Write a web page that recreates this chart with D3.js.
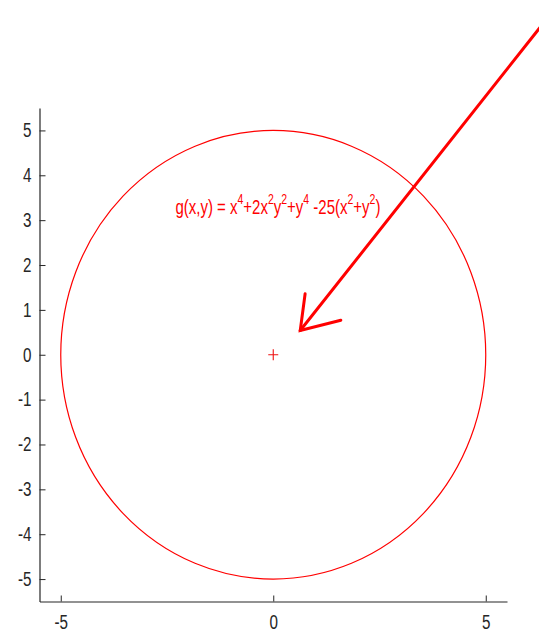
<!DOCTYPE html>
<html lang="en">
<head>
  <meta charset="utf-8">
  <title>Implicit contour g(x,y) = 0</title>
  <script src="https://d3js.org/d3.v7.min.js"></script>
  <style>
    body { margin: 0; background: #fff; }
    svg text { font-family: "Liberation Sans", Arial, sans-serif; }
  </style>
</head>
<body>
  <svg width="539" height="634"></svg>
  <script>
    // axis setup
    const xDomain = [-5.5, 5.5];
    const yDomain = [-5.5, 5.5];
    const xTicks = [-5, 0, 5];
    const yTicks = [5, 4, 3, 2, 1, 0, -1, -2, -3, -4, -5];

    // contour g(x,y)=0 -> circle radius 5 about origin
    const circleCenter = [0, 0];
    const circleRadius = 5;

    // arrow annotation (data coords)
    const arrowStart = [7.2, 8.4];
    const arrowTip = [0.635, 0.54];
    const arrowBarbs = [[0.75, 1.36], [1.59, 0.77]];

    // label
    const labelPos = [-2.3, 3.13];
    const labelParts = [
      ["g(x,y) = x", false], ["4", true], ["+2x", false], ["2", true],
      ["y", false], ["2", true], ["+y", false], ["4", true],
      [" -25(x", false], ["2", true], ["+y", false], ["2", true], [")", false]
    ];

    const svg = d3.select("svg");
    const x = d3.scaleLinear().domain(xDomain).range([39.5, 507]);
    const y = d3.scaleLinear().domain(yDomain).range([601.5, 108]);
    const axisCol = "#262626";

    const gx = svg.append("g")
      .attr("transform", `translate(0,${y(yDomain[0])})`)
      .call(d3.axisBottom(x).tickValues(xTicks).tickFormat(d => String(d))
        .tickSizeInner(-6).tickSizeOuter(0).tickPadding(14));
    const gy = svg.append("g")
      .attr("transform", `translate(${x(xDomain[0])},0)`)
      .call(d3.axisLeft(y).tickValues(yTicks).tickFormat(d => String(d))
        .tickSizeInner(-6).tickSizeOuter(0).tickPadding(8));

    // squeeze tick text to mimic a condensed face
    const tickNarrow = 0.78;
    [gx, gy].forEach(g => {
      g.select(".domain").attr("stroke", axisCol).attr("stroke-width", 1.2);
      g.selectAll(".tick line").attr("stroke", axisCol);
      g.selectAll(".tick text").attr("fill", axisCol)
        .style("font-size", "19.5px")
        .each(function() {
          const s = d3.select(this);
          s.attr("x", (+s.attr("x") || 0) / tickNarrow).attr("transform", `scale(${tickNarrow},1)`);
        });
    });

    // circle
    svg.append("ellipse")
      .attr("cx", x(circleCenter[0])).attr("cy", y(circleCenter[1]))
      .attr("rx", x(circleRadius) - x(0)).attr("ry", y(0) - y(circleRadius))
      .attr("fill", "none").attr("stroke", "#ff0000").attr("stroke-width", 1.2);

    // centre marker
    const cx0 = x(circleCenter[0]), cy0 = y(circleCenter[1]);
    svg.append("path")
      .attr("d", `M${cx0 - 5},${cy0}H${cx0 + 5}M${cx0},${cy0 - 5.5}V${cy0 + 5.5}`)
      .attr("stroke", "#ee1111").attr("stroke-width", 1.1);

    // label
    const labelNarrow = 0.75;
    const t = svg.append("text")
      .attr("transform", `translate(${x(labelPos[0])},${y(labelPos[1])}) scale(${labelNarrow},1)`)
      .attr("fill", "#ff0000").style("font-size", "20px");
    let prevSup = false;
    labelParts.forEach(([s, sup]) => {
      const ts = t.append("tspan").text(s);
      if (sup) ts.style("font-size", "14px");
      if (sup && !prevSup) ts.attr("dy", -10);
      else if (!sup && prevSup) ts.attr("dy", 10);
      prevSup = sup;
    });

    // arrow
    const line = d3.line().x(d => x(d[0])).y(d => y(d[1]));
    const arrowStyle = p => p.attr("fill", "none").attr("stroke", "#ff0000")
      .attr("stroke-width", 3).attr("stroke-linecap", "round");
    svg.append("path").attr("d", line([arrowStart, arrowTip])).call(arrowStyle);
    svg.append("path").attr("d", line([arrowBarbs[0], arrowTip, arrowBarbs[1]]))
      .attr("stroke-linejoin", "miter").call(arrowStyle);
  </script>
</body>
</html>
